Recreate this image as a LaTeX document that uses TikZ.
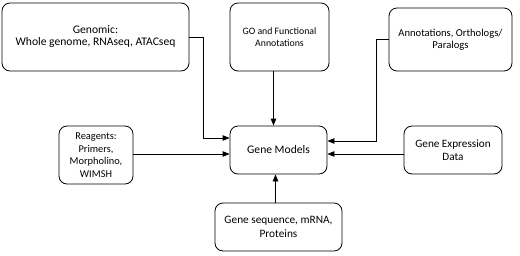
\documentclass[tikz,border=0pt]{standalone}
\usepackage{fontspec}
\setmainfont{Carlito}
\usetikzlibrary{arrows.meta}
\begin{document}
\begin{tikzpicture}[x=1pt,y=-1pt,
  box/.style={draw, line width=0.8pt, rounded corners=8pt, align=center, inner sep=0pt},
  arr/.style={line width=0.8pt, -{Triangle[length=7pt,width=5.5pt]}}]
\useasboundingbox (0,0) rectangle (520,255);
\node[box, minimum width=187, minimum height=68, font=\fontsize{11.6}{12}\selectfont] (gen) at (95.5,37) {Genomic:\\Whole genome, RNAseq, ATACseq};
\node[box, minimum width=99, minimum height=68, font=\fontsize{9.8}{12.3}\selectfont] (go) at (279.5,37) {GO and Functional\\Annotations};
\node[box, minimum width=123, minimum height=63, font=\fontsize{10.6}{12.4}\selectfont] (ann) at (450.5,39.5) {Annotations, Orthologs/\\Paralogs};
\node[box, minimum width=74, minimum height=58, font=\fontsize{10.4}{12.5}\selectfont] (rea) at (96,155) {Reagents:\\Primers,\\Morpholino,\\WIMSH};
\node[box, minimum width=97, minimum height=48, font=\fontsize{11.6}{13}\selectfont] (gm) at (278.5,150) {Gene Models};
\node[box, minimum width=98, minimum height=48, font=\fontsize{11.2}{12.7}\selectfont] (gex) at (453,150) {Gene Expression\\Data};
\node[box, minimum width=127, minimum height=48, font=\fontsize{11.3}{13.3}\selectfont] (gs) at (278.5,227) {Gene sequence, mRNA,\\Proteins};
\coordinate (c1) at (203,138);
\coordinate (c2) at (376,141);
\draw[arr] (gen.east) -| (c1) -- (c1 -| gm.west);
\draw[arr] ([xshift=-6pt]go.south) -- ([xshift=-6pt]go.south |- gm.north);
\draw[arr] (ann.west) -| (c2) -- (c2 -| gm.east);
\draw[arr] (rea.east |- 0,154) -- (gm.west |- 0,154);
\draw[arr] (gex.west |- 0,154) -- (gm.east |- 0,154);
\draw[arr] (gs.north -| 275.5,0) -- (gm.south -| 275.5,0);
\end{tikzpicture}
\end{document}
